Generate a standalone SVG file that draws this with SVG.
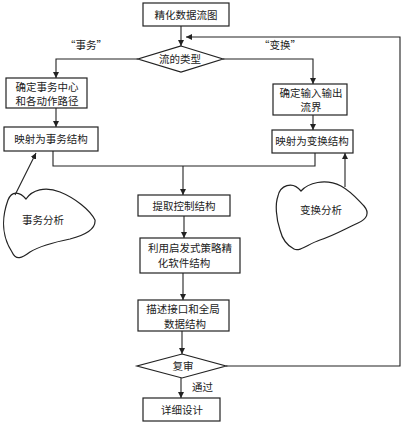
<svg xmlns="http://www.w3.org/2000/svg" width="404" height="424" viewBox="0 0 404 424">
<defs>
<marker id="ah" viewBox="0 0 10 10" refX="10" refY="5" markerWidth="6" markerHeight="6" orient="auto" markerUnits="userSpaceOnUse">
<path d="M0,0 L10,5 L0,10 z" fill="#222"/>
</marker>
<style>
.box{fill:#fff;stroke:#222;stroke-width:1.2}
.ln{fill:none;stroke:#222;stroke-width:1.1}
.ar{fill:none;stroke:#222;stroke-width:1.1;marker-end:url(#ah)}
.cl{fill:none;stroke:#222;stroke-width:1.2}
text{font-family:"Noto Sans CJK SC","Noto Sans CJK JP",sans-serif;font-size:10.5px;fill:#222;text-anchor:middle}
.st{text-anchor:start}
</style>
</defs>
<rect width="404" height="424" fill="#fff"/>
<g id="connectors">
<path class="ar" d="M181,26 L181,46"/>
<path class="ar" d="M138,59 L56,59 L56,78"/>
<path class="ar" d="M223,59 L313,59 L313,84"/>
<path class="ar" d="M56,108 L56,127"/>
<path class="ar" d="M313,115 L313,130"/>
<path class="ln" d="M53,151 L53,166 L315,166 L315,153"/>
<path class="ar" d="M183,166 L183,195"/>
<path class="ar" d="M184,216 L184,238"/>
<path class="ar" d="M183,273 L183,300"/>
<path class="ar" d="M182,331 L182,354"/>
<path class="ar" d="M181,378 L181,398"/>
<path class="ar" d="M226,366 L400,366 L400,37 L186,37"/>
<path class="ar" d="M15,195 L36,153"/>
<path class="ar" d="M345,187 L345,153"/>
</g>
<g id="n1"><rect class="box" x="143" y="3" width="86" height="23"/><text x="186" y="18.5">精化数据流图</text></g>
<g id="n2"><path class="box" d="M181,46 L223,59 L181,72 L138,59 z"/><text x="180" y="62.5">流的类型</text></g>
<g id="lbl1"><text x="86" y="49">“事务”</text></g>
<g id="lbl2"><text x="280" y="49">“变换”</text></g>
<g id="n3"><rect class="box" x="6" y="78" width="81" height="30"/><text x="47" y="91">确定事务中心</text><text x="47" y="105">和各动作路径</text></g>
<g id="n4"><rect class="box" x="273" y="84" width="74" height="31"/><text x="311" y="97">确定输入输出</text><text x="311" y="111">流界</text></g>
<g id="n5"><rect class="box" x="4" y="127" width="94" height="24"/><text x="51" y="142.5">映射为事务结构</text></g>
<g id="n6"><rect class="box" x="272" y="130" width="81" height="23"/><text x="312" y="145">映射为变换结构</text></g>
<g id="n7"><path class="cl" d="M8,200 C12,190 20,192 26,199 C32,190 45,186 60,192 C75,198 90,210 95,220 C96,230 82,236 70,239 C55,242 40,246 30,252 C22,258 16,261 12,252 C4,240 0,222 8,200 Z"/><text x="43" y="224">事务分析</text></g>
<g id="n8"><path class="cl" d="M278,196 C280,186 292,180 301,191 C308,183 325,178 341,186 C352,192 358,200 364,206 C370,213 367,219 358,223 C345,229 333,236 320,240 C308,244 300,252 294,249 C286,245 282,238 280,230 C276,218 275,204 278,196 Z"/><text x="321" y="214">变换分析</text></g>
<g id="n9"><rect class="box" x="138" y="195" width="92" height="21"/><text x="184" y="209.5">提取控制结构</text></g>
<g id="n10"><rect class="box" x="140" y="238" width="100" height="35"/><text x="190" y="252">利用启发式策略精</text><text x="184" y="267">化软件结构</text></g>
<g id="n11"><rect class="box" x="138" y="300" width="91" height="31"/><text x="183" y="313">描述接口和全局</text><text x="185" y="327.5">数据结构</text></g>
<g id="n12"><path class="box" d="M182,354 L226,366 L182,378 L137,366 z"/><text x="183" y="369.5">复审</text></g>
<g id="lbl3"><text class="st" x="192" y="391">通过</text></g>
<g id="n13"><rect class="box" x="143" y="398" width="77" height="23"/><text x="182" y="413.5">详细设计</text></g>
</svg>
